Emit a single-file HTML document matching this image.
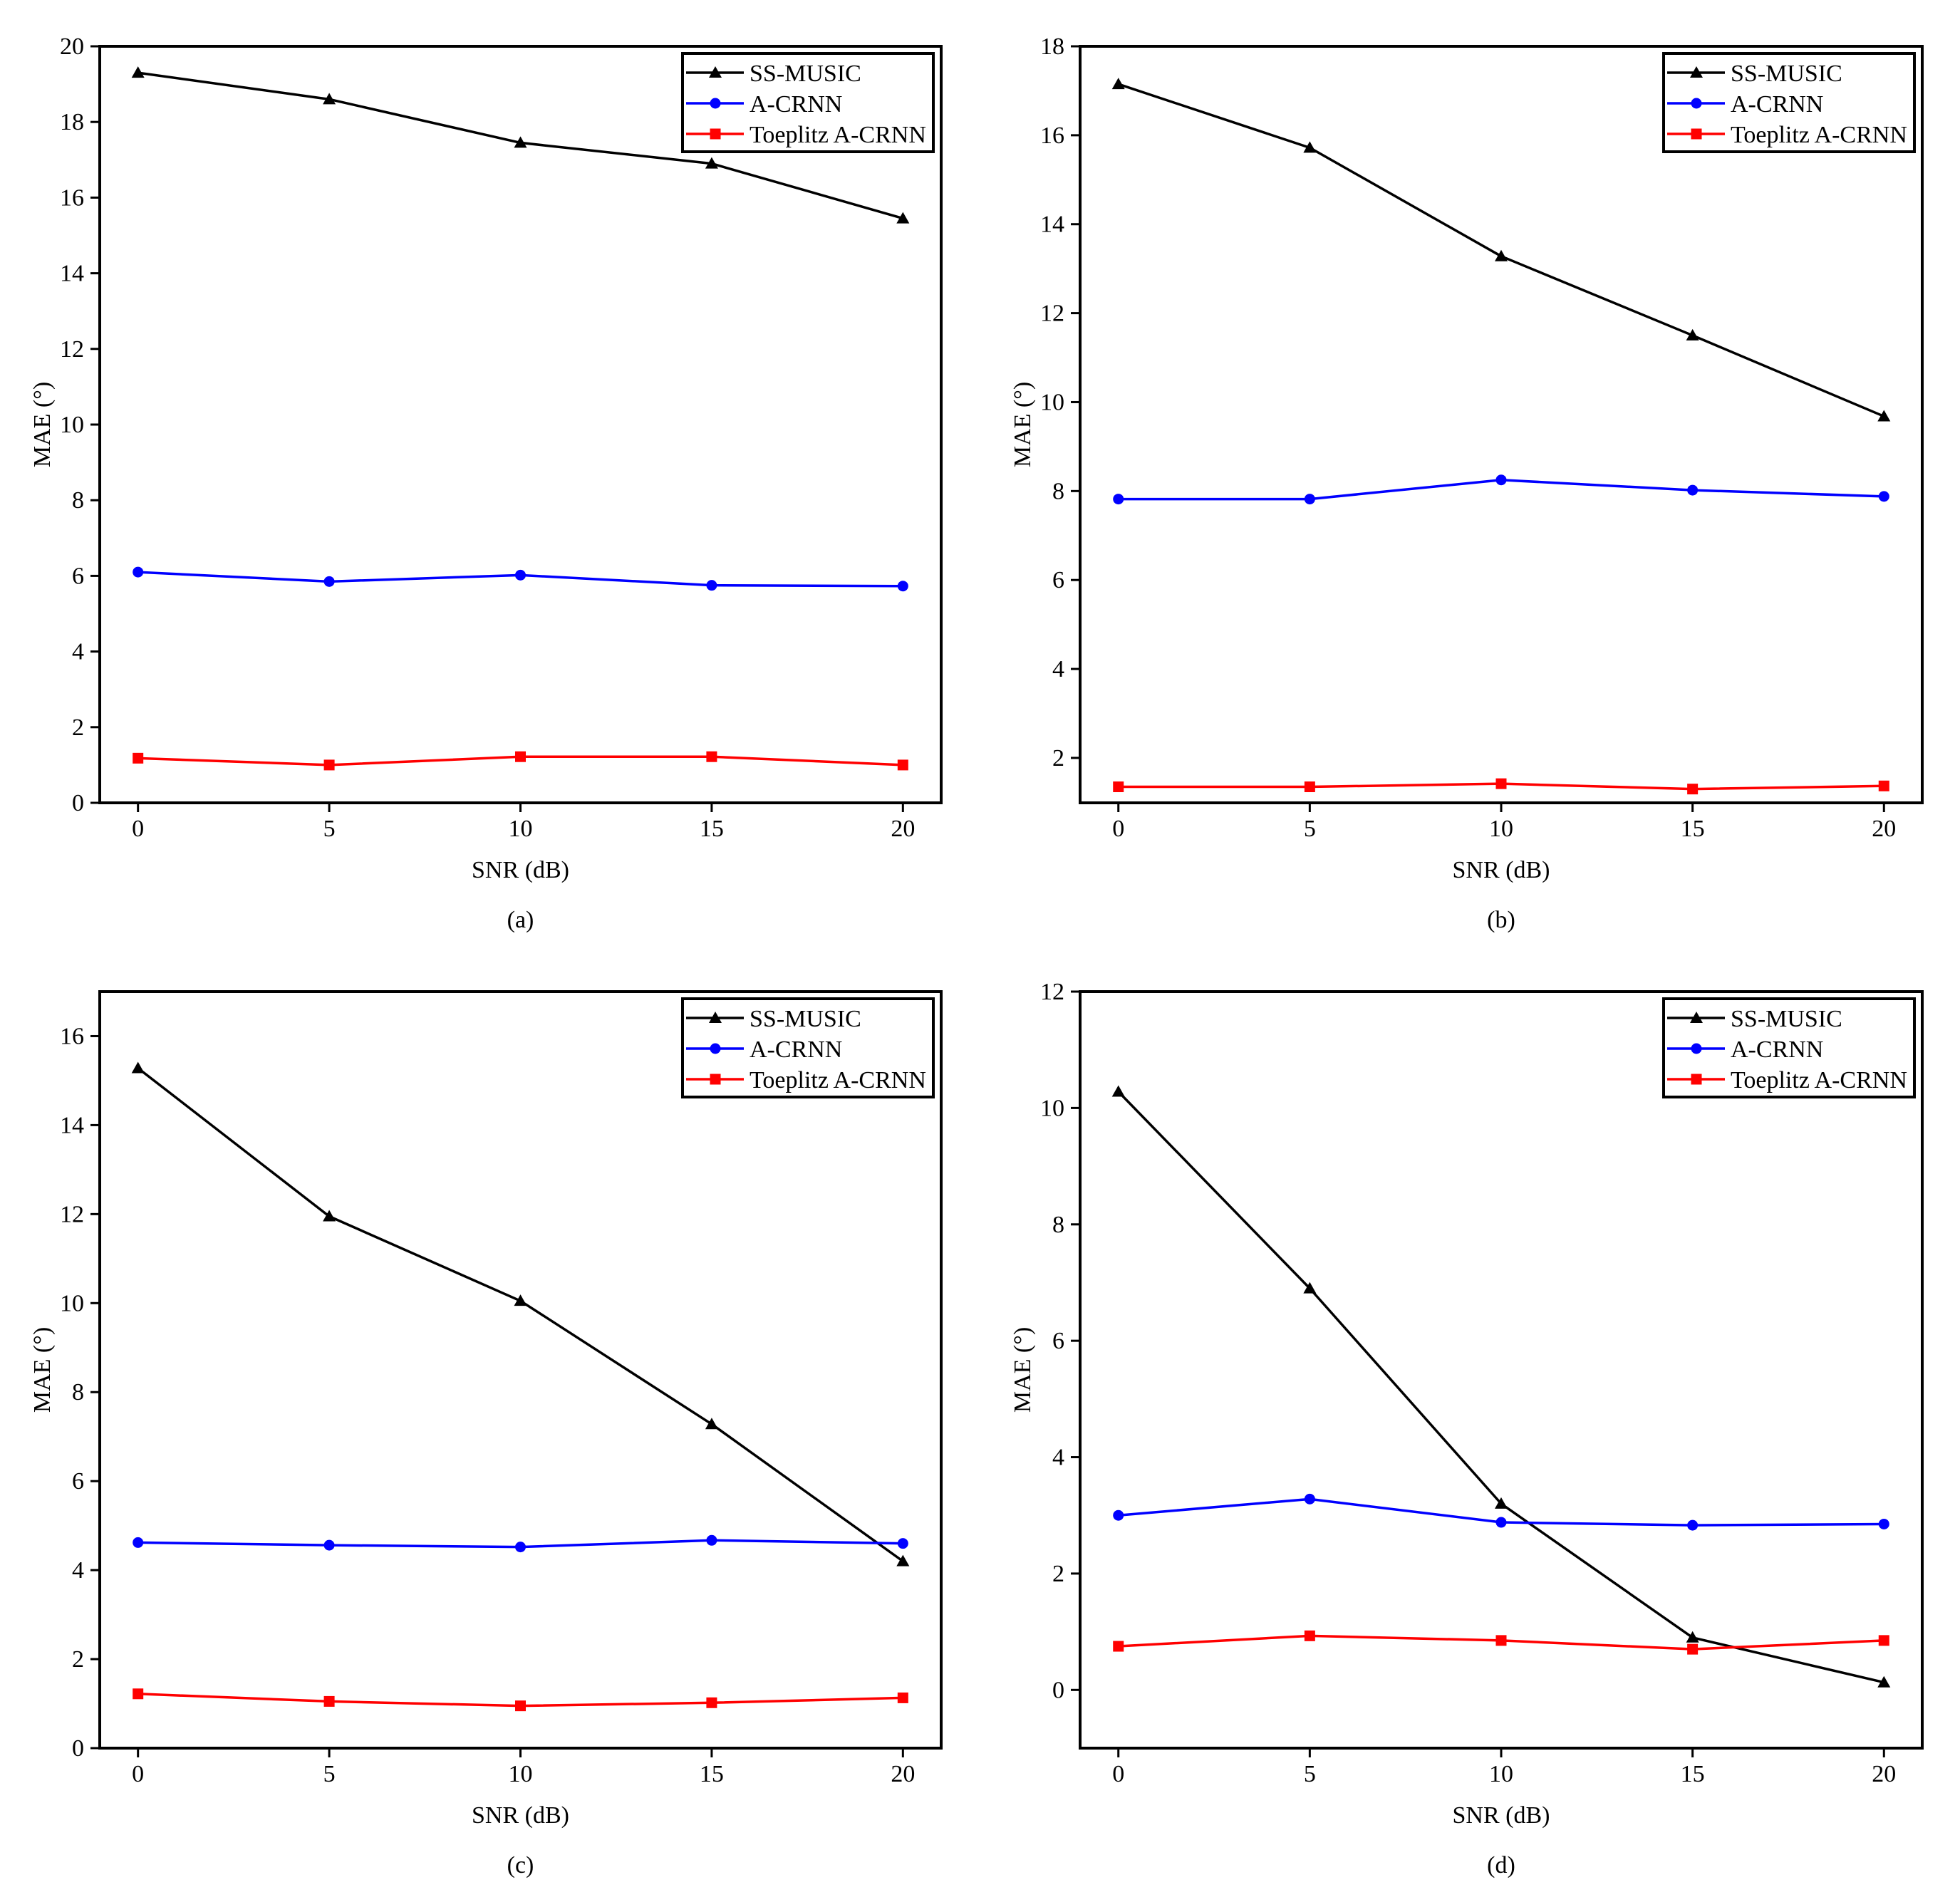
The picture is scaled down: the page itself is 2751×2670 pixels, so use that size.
<!DOCTYPE html>
<html><head><meta charset="utf-8"><style>
html,body{margin:0;padding:0;background:#fff;}
svg{display:block;}
text{font-family:"Liberation Serif",serif;fill:#000;}
</style></head>
<body>
<svg id="fig" width="2751" height="2670" viewBox="0 0 2751 2670" xmlns="http://www.w3.org/2000/svg"></svg>
<script>
const snrValues = [0, 5, 10, 15, 20];
const xTickLabels = ["0", "5", "10", "15", "20"];
const seriesNames = ["SS-MUSIC", "A-CRNN", "Toeplitz A-CRNN"];
const panelLabels = ["(a)", "(b)", "(c)", "(d)"];
const ssMusicA = [19.3, 18.6, 17.45, 16.9, 15.45];
const aCrnnA = [6.1, 5.85, 6.02, 5.75, 5.73];
const toepA = [1.18, 1.0, 1.22, 1.22, 1.0];
const ssMusicB = [17.15, 15.72, 13.28, 11.5, 9.68];
const aCrnnB = [7.82, 7.82, 8.25, 8.02, 7.88];
const toepB = [1.35, 1.35, 1.42, 1.3, 1.37];
const ssMusicC = [15.28, 11.95, 10.05, 7.28, 4.2];
const aCrnnC = [4.62, 4.56, 4.52, 4.67, 4.6];
const toepC = [1.22, 1.05, 0.95, 1.02, 1.13];
const ssMusicD = [10.28, 6.9, 3.2, 0.9, 0.13];
const aCrnnD = [3.0, 3.28, 2.88, 2.83, 2.85];
const toepD = [0.75, 0.93, 0.85, 0.7, 0.85];
const yTicksA = [0, 2, 4, 6, 8, 10, 12, 14, 16, 18, 20];
const yTicksB = [2, 4, 6, 8, 10, 12, 14, 16, 18];
const yTicksC = [0, 2, 4, 6, 8, 10, 12, 14, 16];
const yTicksD = [0, 2, 4, 6, 8, 10, 12];
const yLimA = [0, 20];
const yLimB = [0.99, 18];
const yLimC = [0, 17];
const yLimD = [-1, 12];

const NS = "http://www.w3.org/2000/svg";
const svg = document.getElementById("fig");
function mk(tag, attrs, parent) {
  const e = document.createElementNS(NS, tag);
  for (const k in attrs) e.setAttribute(k, attrs[k]);
  (parent || svg).appendChild(e);
  return e;
}
const colors = ["#000000", "#0000ff", "#ff0000"];
const markers = ["tri", "circ", "sq"];

function marker(g, type, cx, cy, color) {
  let m;
  if (type === "tri") m = mk("polygon", {points: `${cx},${cy-9} ${cx-9},${cy+7} ${cx+9},${cy+7}`, fill: color}, g);
  else if (type === "circ") m = mk("circle", {cx: cx, cy: cy, r: 7.5, fill: color}, g);
  else m = mk("rect", {x: cx-7.5, y: cy-7.5, width: 15, height: 15, fill: color}, g);
  
  
}

function panel(idx, L, T, R, B, yLim, yTicks, series) {
  const g = mk("g", {});
  
  
  const xMin = -1, xMax = 21;
  const xs = v => L + (v - xMin) / (xMax - xMin) * (R - L);
  const ys = v => B - (v - yLim[0]) / (yLim[1] - yLim[0]) * (B - T);
  series.forEach((vals, si) => {
    const pts = vals.map((v, i) => xs(snrValues[i]) + "," + ys(v)).join(" ");
    const pl = mk("polyline", {points: pts, fill: "none", stroke: colors[si], "stroke-width": 3.5, "stroke-linejoin": "round"}, g);
    
    
    vals.forEach((v, i) => marker(g, markers[si], xs(snrValues[i]), ys(v), colors[si]));
  });
  const box = mk("rect", {x: L, y: T, width: R - L, height: B - T, fill: "none", stroke: "#000", "stroke-width": 4}, g);
  
  
  snrValues.forEach((v, i) => {
    mk("line", {x1: xs(v), y1: B, x2: xs(v), y2: B + 13, stroke: "#000", "stroke-width": 3}, g);
    const t = mk("text", {x: xs(v), y: B + 47, "font-size": 34, "text-anchor": "middle"}, g);
    t.textContent = xTickLabels[i];
    
    
  });
  yTicks.forEach(v => {
    mk("line", {x1: L - 13, y1: ys(v), x2: L, y2: ys(v), stroke: "#000", "stroke-width": 3}, g);
    const t = mk("text", {x: L - 22, y: ys(v) + 11, "font-size": 34, "text-anchor": "end"}, g);
    t.textContent = String(v);
    
    
  });
  const xt = mk("text", {x: (L + R) / 2, y: B + 105, "font-size": 34, "text-anchor": "middle"}, g);
  xt.textContent = "SNR (dB)";
  
  
  const cy = (T + B) / 2, cx = L - 70;
  const yt = mk("text", {x: cx, y: cy, "font-size": 34, "text-anchor": "middle", transform: `rotate(-90 ${cx} ${cy})`}, g);
  yt.textContent = "MAE (°)";
  
  
  const cap = mk("text", {x: (L + R) / 2, y: B + 175, "font-size": 34, "text-anchor": "middle"}, g);
  cap.textContent = panelLabels[idx];
  
  
  const lg = mk("g", {}, g);
  
  
  const lx = R - 363, lt = T + 10;
  mk("rect", {x: lx, y: lt, width: 352, height: 138, fill: "#fff", stroke: "#000", "stroke-width": 4}, lg);
  seriesNames.forEach((n, si) => {
    const yy = lt + 27 + si * 43;
    const e = mk("g", {}, lg);
    
    
    mk("line", {x1: lx + 5, y1: yy, x2: lx + 86, y2: yy, stroke: colors[si], "stroke-width": 3.5}, e);
    marker(e, markers[si], lx + 46, yy, colors[si]);
    const t = mk("text", {x: lx + 94, y: yy + 12, "font-size": 34}, e);
    t.textContent = n;
  });
}

panel(0, 140, 65, 1321, 1127, yLimA, yTicksA, [ssMusicA, aCrnnA, toepA]);
panel(1, 1516, 65, 2698, 1127, yLimB, yTicksB, [ssMusicB, aCrnnB, toepB]);
panel(2, 140, 1392, 1321, 2454, yLimC, yTicksC, [ssMusicC, aCrnnC, toepC]);
panel(3, 1516, 1392, 2698, 2454, yLimD, yTicksD, [ssMusicD, aCrnnD, toepD]);
</script>
</body></html>
